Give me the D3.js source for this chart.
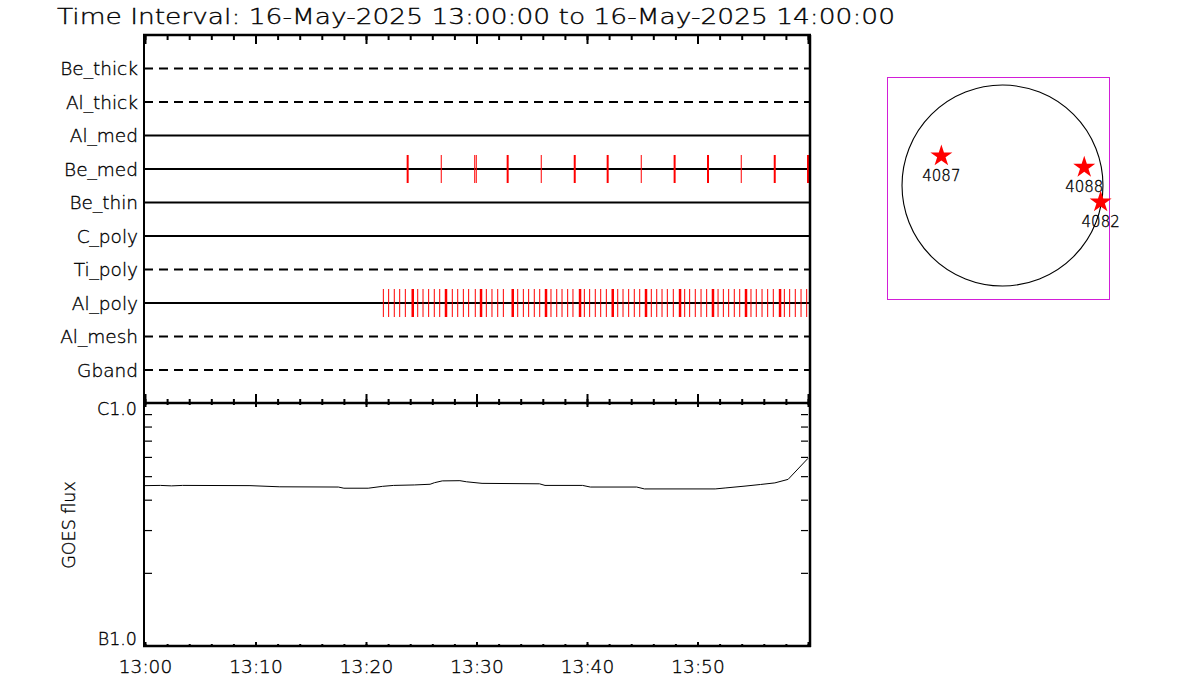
<!DOCTYPE html>
<html>
<head>
<meta charset="utf-8">
<script src="https://cdn.jsdelivr.net/npm/d3@7"></script>
<style>
  html, body { margin: 0; padding: 0; background: #fff; }
  svg text { font-family: "DejaVu Sans", sans-serif; font-weight: 200; fill: #000; stroke: #000; stroke-width: 0.35; }
</style>
</head>
<body>
<svg id="chart" width="1200" height="700"></svg>
<script>
// ---------------- DATA ----------------
const titleText = "Time Interval: 16-May-2025 13:00:00 to 16-May-2025 14:00:00";
const startTime = Date.UTC(2025, 4, 16, 13, 0, 0);
const endTime = Date.UTC(2025, 4, 16, 14, 0, 0);

const rowLabels = ["Be_thick", "Al_thick", "Al_med", "Be_med", "Be_thin", "C_poly", "Ti_poly", "Al_poly", "Al_mesh", "Gband"];
const rowDashed = [true, true, false, false, false, false, true, false, true, true];

// event times (minutes after 13:00) and mark weights
const beMedMinutes = [23.77, 26.81, 29.84, 29.98, 32.82, 35.86, 38.89, 41.87, 44.91, 47.93, 50.95, 53.96, 56.99, 60.0];
const beMedWeights = [2, 1, 1, 1, 2, 1, 2, 2, 1, 2, 2, 1, 2, 2];

const alPolyMinutes = [21.57, 22.05, 22.56, 23.05, 23.56, 24.23, 24.68, 25.16, 25.67, 26.18, 26.67, 27.24,
  27.81, 28.30, 28.81, 29.29, 29.89, 30.41, 30.89, 31.40, 31.92, 32.43, 33.28, 33.73, 34.24, 34.72,
  35.23, 35.72, 36.29, 36.74, 37.26, 37.74, 38.25, 38.73, 39.37, 39.76, 40.24, 40.75, 41.24, 41.75,
  42.33, 42.78, 43.26, 43.77, 44.28, 44.77, 45.34, 45.82, 46.31, 46.79, 47.27, 47.81, 48.42, 48.84,
  49.29, 49.80, 50.32, 50.83, 51.40, 51.86, 52.34, 52.82, 53.33, 53.82, 54.39, 54.84, 55.32, 55.84,
  56.35, 56.86, 57.47, 57.86, 58.34, 58.85, 59.37, 59.88];
const alPolyThick = [5, 11, 17, 22, 28, 34, 40, 46, 52, 58, 64, 70];
const alPolyWeights = alPolyMinutes.map((m, i) => alPolyThick.includes(i) ? 2.5 : 1);

// GOES flux (W/m^2) vs minutes after 13:00
const goesMinutes = [0, 1.4, 2.4, 3.4, 9.5, 12.2, 17.5, 18.0, 20.2, 21.5, 22.5, 24.4, 25.8, 26.2, 26.9,
  28.5, 29.1, 30.5, 35.7, 36.2, 39.6, 40.3, 44.5, 45.2, 51.6, 52.5, 54.3, 55.7, 57.0, 58.2, 60.0];
const goesFlux = [4.57e-7, 4.58e-7, 4.56e-7, 4.58e-7, 4.57e-7, 4.52e-7, 4.51e-7, 4.46e-7, 4.46e-7, 4.54e-7,
  4.58e-7, 4.60e-7, 4.63e-7, 4.70e-7, 4.78e-7, 4.79e-7, 4.74e-7, 4.67e-7, 4.65e-7, 4.58e-7, 4.58e-7,
  4.51e-7, 4.51e-7, 4.43e-7, 4.43e-7, 4.47e-7, 4.55e-7, 4.62e-7, 4.69e-7, 4.85e-7, 5.92e-7];
const goesMinorTicks = [2e-7, 3e-7, 4e-7, 5e-7, 6e-7, 7e-7, 8e-7, 9e-7];
const goesClassLabels = ["B1.0", "C1.0"];
const goesClassValues = [1e-7, 1e-6];

// solar map: active regions (arcsec)
const regionNames = ["4087", "4088", "4082"];
const regionX = [-578, 773, 928];
const regionY = [279, 172, -156];
const solarRadius = 950;

// ---------------- DRAW ----------------
const svg = d3.select("#chart");
const toDate = m => new Date(startTime + m * 60000);

const L = 144, R = 810, topY = 35, midY = 403, botY = 646;
const x = d3.scaleUtc().domain([new Date(startTime), new Date(endTime)]).range([145, 808]);
const row = d3.scaleLinear().domain([0, 11]).range([topY, midY + 0.5]);
const y = d3.scaleLog().domain([1e-7, 1e-6]).range([botY, midY]);

// title
svg.append("text").attr("x", 57).attr("y", 24).attr("font-size", 22)
  .attr("textLength", 838).attr("lengthAdjust", "spacingAndGlyphs").text(titleText);

// row lines
rowLabels.forEach((lab, i) => {
  const yy = row(i + 1);
  svg.append("line").attr("x1", L).attr("x2", R).attr("y1", yy).attr("y2", yy)
    .attr("stroke", "#000").attr("stroke-width", 2)
    .attr("stroke-dasharray", rowDashed[i] ? "9,6" : null);
  svg.append("text").attr("x", 138).attr("y", yy + 6.5).attr("font-size", 18.5)
    .attr("text-anchor", "end").text(lab);
});

// event marks
function drawEvents(minutes, weights, rowIndex) {
  const yy = row(rowIndex + 1);
  svg.append("g").selectAll("line").data(minutes).join("line")
    .attr("x1", d => x(toDate(d))).attr("x2", d => x(toDate(d)))
    .attr("y1", yy - 14).attr("y2", yy + 14)
    .attr("stroke", "#ff0000").attr("stroke-width", (d, i) => weights[i]);
}
drawEvents(beMedMinutes, beMedWeights, rowLabels.indexOf("Be_med"));
drawEvents(alPolyMinutes, alPolyWeights, rowLabels.indexOf("Al_poly"));

// time axes ticks
const minorT = d3.utcMinute.every(2).range(new Date(startTime), new Date(endTime + 1));
const majorT = d3.utcMinute.every(10).range(new Date(startTime), new Date(endTime + 1));
function tickAxis(axisFn, ticks, size, ty) {
  const g = svg.append("g").attr("transform", `translate(0,${ty})`)
    .call(axisFn(x).tickValues(ticks).tickSize(size).tickFormat(""));
  g.select(".domain").remove();
  g.selectAll(".tick line").attr("stroke", "#000").attr("stroke-width", 2);
  return g;
}
tickAxis(d3.axisBottom, minorT, 5, topY);
tickAxis(d3.axisBottom, majorT, 9, topY);
tickAxis(d3.axisTop, minorT, 4, midY);
tickAxis(d3.axisTop, majorT, 9, midY);
tickAxis(d3.axisBottom, minorT, 2, midY);
tickAxis(d3.axisBottom, majorT, 4, midY);
tickAxis(d3.axisTop, minorT, 2, botY);
tickAxis(d3.axisTop, majorT, 4, botY);

// x labels
const xl = svg.append("g").attr("transform", `translate(0,${botY})`)
  .call(d3.axisBottom(x).tickValues(majorT.slice(0, 6)).tickSize(0).tickPadding(14)
    .tickFormat(d3.utcFormat("%H:%M")));
xl.select(".domain").remove();
xl.selectAll("text").attr("font-size", 18.5).attr("font-family", null);

// GOES y ticks
const yl = svg.append("g").attr("transform", `translate(145,0)`)
  .call(d3.axisRight(y).tickValues(goesMinorTicks).tickSize(7).tickFormat(""));
yl.select(".domain").remove();
yl.selectAll(".tick line").attr("stroke", "#000").attr("stroke-width", 1.2);
const yr = svg.append("g").attr("transform", `translate(808,0)`)
  .call(d3.axisLeft(y).tickValues(goesMinorTicks).tickSize(7).tickFormat(""));
yr.select(".domain").remove();
yr.selectAll(".tick line").attr("stroke", "#000").attr("stroke-width", 1.2);

// GOES class labels
goesClassValues.forEach((v, i) => {
  const yy = y(v);
  svg.append("text").attr("x", 137).attr("y", i === 0 ? yy - 1 : yy + 12)
    .attr("font-size", 17.5).attr("text-anchor", "end").text(goesClassLabels[i]);
});
svg.append("text").attr("transform", `translate(75,525) rotate(-90)`)
  .attr("font-size", 17.5).attr("text-anchor", "middle").text("GOES flux");

// GOES curve
const line = d3.line().x(d => x(toDate(d[0]))).y(d => y(d[1]));
svg.append("path").datum(goesMinutes.map((m, i) => [m, goesFlux[i]]))
  .attr("d", line).attr("fill", "none").attr("stroke", "#000").attr("stroke-width", 1);

// frames
svg.append("line").attr("x1", L).attr("x2", L).attr("y1", topY).attr("y2", botY + 1).attr("stroke", "#000").attr("stroke-width", 2);
svg.append("line").attr("x1", R).attr("x2", R).attr("y1", topY).attr("y2", botY + 1).attr("stroke", "#000").attr("stroke-width", 2.5);
[topY, midY, botY].forEach(yy => svg.append("line").attr("x1", L - 1).attr("x2", R + 1).attr("y1", yy).attr("y2", yy)
  .attr("stroke", "#000").attr("stroke-width", 2.5));

// solar map
const mx = d3.scaleLinear().domain([-1092, 1007]).range([887, 1109]);
const my = d3.scaleLinear().domain([-1073, 1026]).range([299, 77]);
svg.append("rect").attr("x", mx(-1092) + 0.5).attr("y", my(1026) + 0.5)
  .attr("width", mx(1007) - mx(-1092)).attr("height", my(-1073) - my(1026))
  .attr("fill", "none").attr("stroke", "#d21ed8").attr("stroke-width", 1);
svg.append("circle").attr("cx", mx(0)).attr("cy", my(0)).attr("r", mx(solarRadius) - mx(0))
  .attr("fill", "none").attr("stroke", "#000").attr("stroke-width", 1.1);
const star = d3.symbol().type(d3.symbolStar).size(150);
regionNames.forEach((nm, i) => {
  svg.append("path").attr("d", star()).attr("fill", "#ff0000")
    .attr("transform", `translate(${mx(regionX[i])},${my(regionY[i])})`);
  svg.append("text").attr("x", mx(regionX[i])).attr("y", my(regionY[i]) + 25)
    .attr("font-size", 15).attr("text-anchor", "middle").text(nm);
});
</script>
</body>
</html>
